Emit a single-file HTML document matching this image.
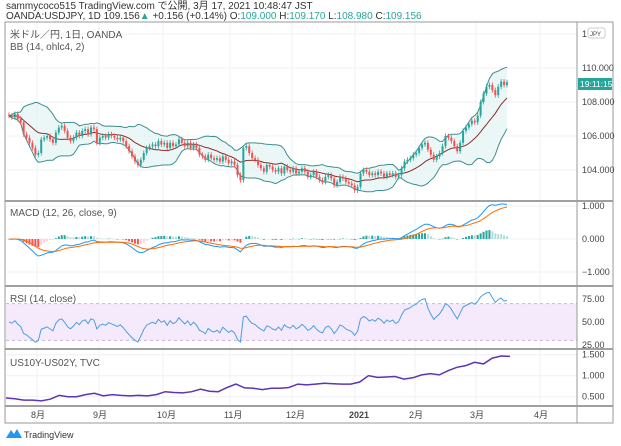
<!DOCTYPE html>
<html><head><meta charset="utf-8"><style>
body{margin:0;background:#fff;width:621px;height:441px;overflow:hidden;font-family:"Liberation Sans","Noto Sans CJK JP",sans-serif}
svg text{font-family:"Liberation Sans","Noto Sans CJK JP",sans-serif}
</style></head><body>
<svg id="c" width="621" height="441">
<text x="6" y="9" font-size="10" fill="#333">sammycoco515 TradingView.com で公開, 3月 17, 2021 10:48:47 JST</text>
<text x="6" y="19" font-size="10" fill="#333">OANDA:USDJPY, 1D 109.156<tspan fill="#26a69a">▲</tspan> +0.156 (+0.14%) O:<tspan fill="#26a69a">109.000</tspan> H:<tspan fill="#26a69a">109.170</tspan> L:<tspan fill="#26a69a">108.980</tspan> C:<tspan fill="#26a69a">109.156</tspan></text>
<g id="grid"></g>
<g id="marks"></g>
<g id="frame"></g>
</svg>
<script>
const closes=[107.2,107.1,107.3,107.0,106.8,106.1,105.9,105.6,105.3,104.9,
105.0,105.8,105.9,106.0,105.8,105.6,106.2,106.5,106.6,106.3,
105.9,105.7,105.9,106.2,106.0,106.3,106.4,106.1,106.5,106.4,
105.6,105.9,106.0,105.9,106.1,106.0,105.9,105.8,105.9,105.7,
105.4,105.1,104.8,104.5,104.3,104.6,105.0,105.3,105.4,105.5,
105.4,105.7,105.5,105.6,105.3,105.6,105.4,105.5,105.8,105.6,
105.4,105.6,105.3,105.5,105.3,104.9,104.8,104.6,104.9,104.7,
104.6,104.7,104.5,104.8,104.6,104.4,104.5,104.3,103.7,103.4,
105.3,105.4,105.0,104.7,104.6,104.3,104.1,103.9,104.3,104.2,
104.0,103.9,104.1,103.8,104.2,104.0,103.9,104.1,103.8,103.9,
104.1,103.9,103.6,103.7,103.9,103.6,103.4,103.3,103.6,103.7,
103.5,103.1,103.3,103.6,103.5,103.3,103.2,103.1,102.8,103.0,
103.8,104.0,103.9,103.7,103.8,103.7,103.9,103.8,103.6,103.8,
103.7,103.8,103.6,103.7,104.1,104.5,104.6,104.7,104.9,105.0,
105.3,105.5,105.6,105.2,104.9,104.6,104.8,105.0,105.4,106.0,
105.9,105.7,105.4,105.1,105.6,106.3,106.5,106.7,106.9,106.8,
107.2,108.0,108.5,108.9,109.0,108.7,108.4,108.9,109.2,109.0,109.16];
const spread=[0.47,0.45,0.42,0.42,0.40,0.44,0.53,0.50,0.50,0.55,
0.58,0.52,0.55,0.53,0.52,0.53,0.52,0.55,0.62,0.60,
0.59,0.62,0.68,0.63,0.62,0.72,0.80,0.71,0.70,0.67,
0.70,0.70,0.72,0.80,0.78,0.80,0.82,0.81,0.80,0.80,
0.85,1.00,0.96,0.97,0.98,0.92,0.95,1.02,1.05,1.02,
1.12,1.20,1.24,1.32,1.28,1.42,1.47,1.46];
const priceTicks=[104,106,108,110,112];
const macdTicks=[-1,0,1];
const rsiTicks=[25,50,75];
const spreadTicks=[0.5,1.0,1.5];
const monthLabels=["8月","9月","10月","11月","12月","2021","2月","3月","4月"];
const monthX=[37,99,163,230,292,355,415,476,540];

const NS="http://www.w3.org/2000/svg";
const L=6,R=577;
function mk(p,tag,at){const e=document.createElementNS(NS,tag);for(const k in at)e.setAttribute(k,at[k]);p.appendChild(e);return e;}
const G=document.getElementById('grid'),M=document.getElementById('marks'),F=document.getElementById('frame');
const bx=i=>L+3+i*(507-9)/(closes.length-1);
const py=v=>68+(110-v)*17;
const my=v=>239-v*33;
const ry=v=>322-(v-50)*0.92;
const sx=i=>L+i*(510-L)/(spread.length-1);
const sy=v=>375.7-(v-1)*42;

monthX.forEach(x=>{const l=mk(G,'line',{x1:x,x2:x,y1:22,y2:406,stroke:'#eef0f3'});});
priceTicks.forEach(v=>{const l=mk(G,'line',{x1:L,x2:R,y1:py(v),y2:py(v),stroke:'#eef0f3'});});
macdTicks.forEach(v=>mk(G,'line',{x1:L,x2:R,y1:my(v),y2:my(v),stroke:'#eef0f3'}));
spreadTicks.forEach(v=>mk(G,'line',{x1:L,x2:R,y1:sy(v),y2:sy(v),stroke:'#eef0f3'}));
const band=mk(M,'rect',{x:L,y:ry(70),width:R-L,height:ry(30)-ry(70),fill:'#f5eafb'});

[70,30].forEach(v=>mk(M,'line',{x1:L,x2:R,y1:ry(v),y2:ry(v),stroke:'#c9b3d6','stroke-dasharray':'3,3'}));

const N=14;let up=[],lo=[],mid=[];
closes.forEach((c,i)=>{const w=closes.slice(Math.max(0,i-N+1),i+1);const m=w.reduce((a,b)=>a+b,0)/w.length;const sd=Math.sqrt(w.reduce((a,b)=>a+(b-m)*(b-m),0)/w.length);mid.push(m);up.push(m+2*sd);lo.push(m-2*sd);});
const pts=a=>a.map((v,i)=>bx(i).toFixed(1)+','+py(v).toFixed(1)).join(' ');
const fill=mk(M,'polygon',{points:pts(up)+' '+lo.map((v,i)=>[bx(i),py(v)]).reverse().map(p=>p[0].toFixed(1)+','+p[1].toFixed(1)).join(' '),fill:'#e6f4f4','fill-opacity':0.8});

const bu=mk(M,'polyline',{points:pts(up),fill:'none',stroke:'#3d8f8f','stroke-width':1});

const bl=mk(M,'polyline',{points:pts(lo),fill:'none',stroke:'#3d8f8f','stroke-width':1});

const bm=mk(M,'polyline',{points:pts(mid),fill:'none',stroke:'#8b2e2e','stroke-width':1});


closes.forEach((c,i)=>{const o=i?closes[i-1]:c+0.05;const col=c>=o?'#26a69a':'#ef5350';const x=bx(i);
const hi=Math.max(o,c)+0.15,lw=Math.min(o,c)-0.15;
const g=mk(M,'g',{});


mk(g,'line',{x1:x,x2:x,y1:py(hi),y2:py(lw),stroke:col,'stroke-width':0.8});
mk(g,'rect',{x:x-1,y:py(Math.max(o,c)),width:2,height:Math.max(1,Math.abs(py(o)-py(c))),fill:col});});

function ema(a,n){const k=2/(n+1);let r=[],p=a[0];a.forEach(v=>{p=v*k+p*(1-k);r.push(p);});return r;}
const e12=ema(closes,12),e26=ema(closes,26);const macd=e12.map((v,i)=>v-e26[i]);const sig=ema(macd,9);
macd.forEach((v,i)=>{const h=v-sig[i];const prev=i?macd[i-1]-sig[i-1]:0;
const col=h>=0?(h>=prev?'#26a69a':'#b2dfdb'):(h<prev?'#ff5252':'#ffcdd2');
const r=mk(M,'rect',{x:bx(i)-1,y:Math.min(my(0),my(h)),width:2,height:Math.max(0.5,Math.abs(my(h)-my(0))),fill:col});
});
const ml=mk(M,'polyline',{points:macd.map((v,i)=>bx(i).toFixed(1)+','+my(v).toFixed(1)).join(' '),fill:'none',stroke:'#2196f3','stroke-width':1});

const sl=mk(M,'polyline',{points:sig.map((v,i)=>bx(i).toFixed(1)+','+my(v).toFixed(1)).join(' '),fill:'none',stroke:'#ff6d00','stroke-width':1});


let ag=0.15,al=0.15,rsi=[];
closes.forEach((c,i)=>{if(i===0){rsi.push(50);return;}const d=c-closes[i-1];const g=Math.max(d,0),l=Math.max(-d,0);
ag=(ag*13+g)/14;al=(al*13+l)/14;
rsi.push(100-100/(1+ag/al));});
const rl=mk(M,'polyline',{points:rsi.map((v,i)=>bx(i).toFixed(1)+','+ry(v).toFixed(1)).join(' '),fill:'none',stroke:'#4a9ee0','stroke-width':1});


const spl=mk(M,'polyline',{points:spread.map((v,i)=>sx(i).toFixed(1)+','+sy(v).toFixed(1)).join(' '),fill:'none',stroke:'#5e35b1','stroke-width':1.5});


mk(F,'rect',{x:5,y:22,width:608,height:401,fill:'none',stroke:'#9a9a9a','stroke-width':1});
mk(F,'line',{x1:R,x2:R,y1:22,y2:423,stroke:'#9a9a9a'});
[201,286,349,406].forEach(y=>{const l=mk(F,'line',{x1:5,x2:613,y1:y,y2:y,stroke:'#a0a0a0','stroke-width':2});});
function lab(x,y,t,name,extra){const e=mk(F,'text',Object.assign({x:x,y:y,'font-size':9,fill:'#444'},extra||{}));e.textContent=t;return e;}
priceTicks.forEach(v=>{if(v<112)lab(582,py(v)+3,v.toFixed(3),'price-tick');});
lab(582,37,'1','price-tick');
macdTicks.forEach(v=>lab(582,my(v)+3,(v<0?'−':'')+Math.abs(v).toFixed(3),'macd-tick'));
rsiTicks.forEach(v=>lab(582,ry(v)+3,v.toFixed(2),'rsi-tick'));
spreadTicks.forEach(v=>lab(582,sy(v)+3,v.toFixed(3),'spread-tick'));
monthLabels.forEach((t,i)=>lab(monthX[i]-6,418,t,'time-tick',t==='2021'?{'font-weight':'bold'}:{}));
const jp=mk(F,'rect',{x:588,y:28,width:17,height:10,fill:'#fff',stroke:'#ccc',rx:2});

lab(590,36,'JPY','currency-label',{'font-size':6});
const pl=mk(F,'rect',{x:578,y:78,width:34,height:12,fill:'#26a69a'});

lab(580,87,'19:11:15','countdown',{fill:'#fff','font-size':8.5});
lab(10,38,'米ドル／円, 1日, OANDA','main-legend',{'font-size':10,fill:'#555'});
lab(10,50,'BB (14, ohlc4, 2)','bb-legend',{'font-size':10,fill:'#555'});
lab(10,216,'MACD (12, 26, close, 9)','macd-legend',{'font-size':10,fill:'#555'});
lab(10,302,'RSI (14, close)','rsi-legend',{'font-size':10,fill:'#555'});
lab(10,366,'US10Y-US02Y, TVC','spread-legend',{'font-size':10,fill:'#555'});
const lg=mk(F,'path',{d:'M6 438 L11 430 L14 434 L17 429 L22 438 Z',fill:'#2196f3'});

lab(24,438,'TradingView','tradingview-brand',{'font-size':9,fill:'#333'});
</script>
</body></html>
